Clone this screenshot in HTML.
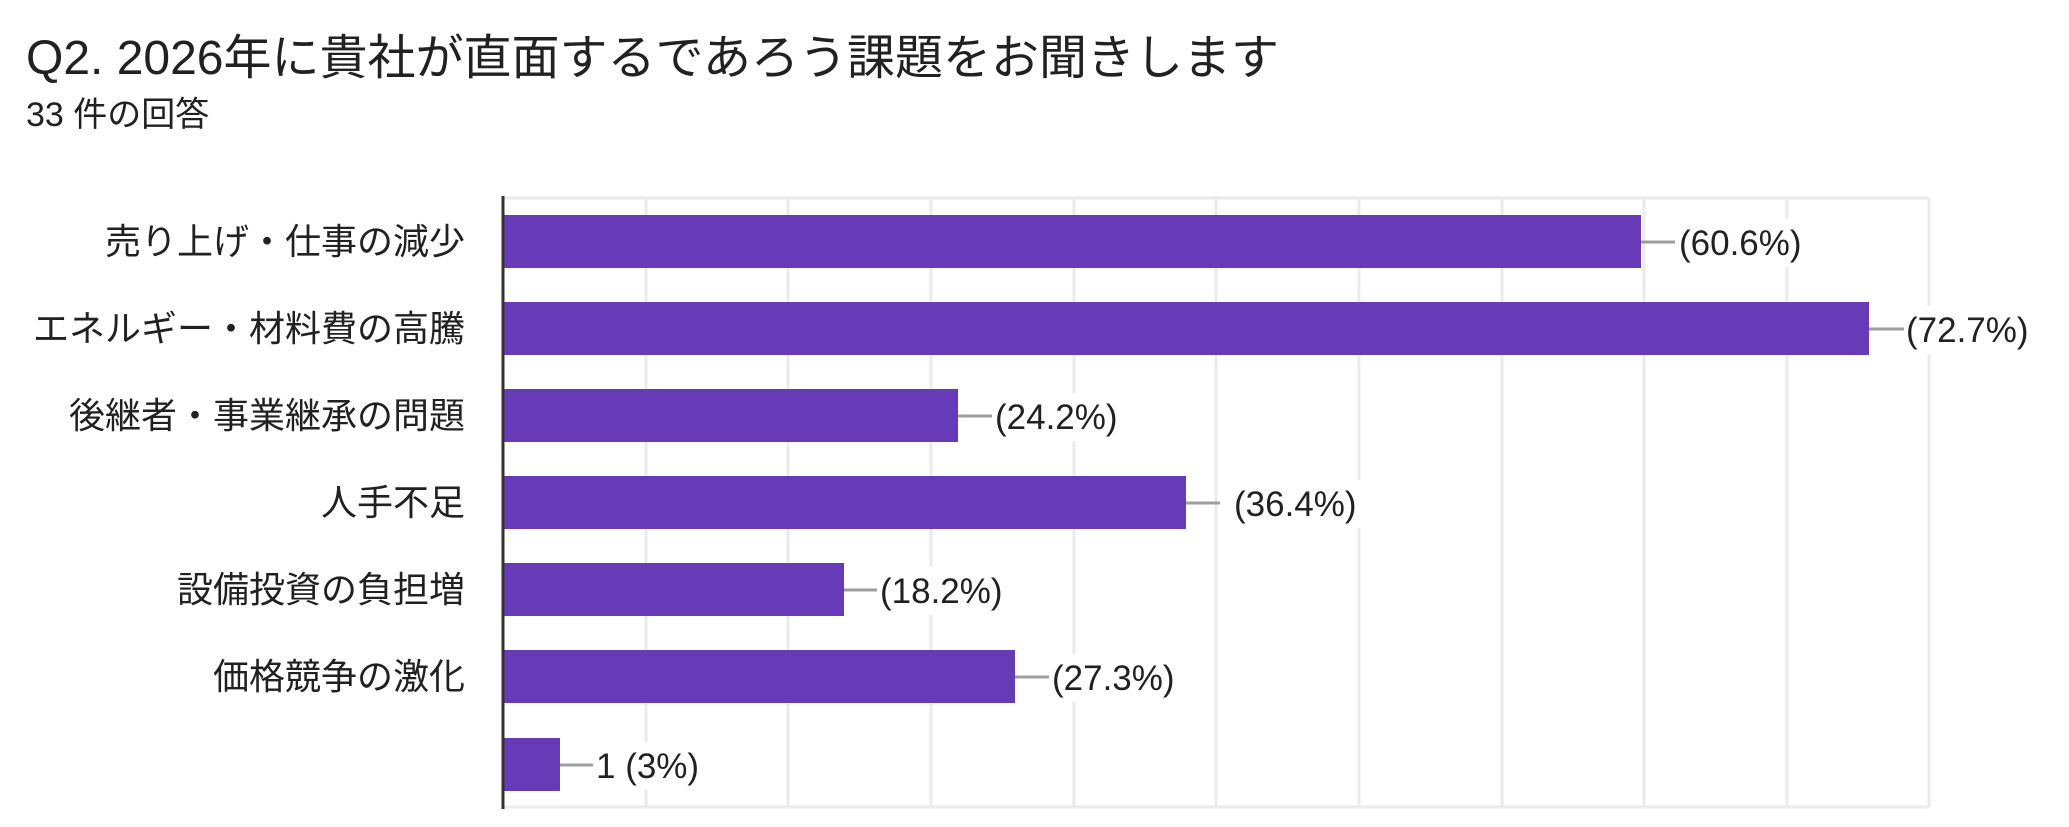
<!DOCTYPE html>
<html><head><meta charset="utf-8"><style>
html,body{margin:0;padding:0;background:#fff;}
svg{display:block;}
text{font-family:"Liberation Sans","Noto Sans CJK JP",sans-serif;fill:#212121;}
</style></head><body>
<svg width="2069" height="827" viewBox="0 0 2069 827" xmlns="http://www.w3.org/2000/svg">
<text x="26" y="74" font-size="48">Q2. 2026年に貴社が直面するであろう課題をお聞きします</text>
<text x="26" y="126" font-size="34">33 件の回答</text>
<g stroke="#ebebeb" stroke-width="3">
<line x1="503" y1="198" x2="1929" y2="198"/>
<line x1="503" y1="807" x2="1929" y2="807"/>
<line x1="646" y1="198" x2="646" y2="807"/>
<line x1="788" y1="198" x2="788" y2="807"/>
<line x1="931" y1="198" x2="931" y2="807"/>
<line x1="1074" y1="198" x2="1074" y2="807"/>
<line x1="1216" y1="198" x2="1216" y2="807"/>
<line x1="1359" y1="198" x2="1359" y2="807"/>
<line x1="1502" y1="198" x2="1502" y2="807"/>
<line x1="1644" y1="198" x2="1644" y2="807"/>
<line x1="1787" y1="198" x2="1787" y2="807"/>
<line x1="1929" y1="198" x2="1929" y2="807"/>
</g>
<g fill="#673ab7">
<rect x="504" y="215" width="1137" height="53"/>
<rect x="504" y="302" width="1365" height="53"/>
<rect x="504" y="389" width="454" height="53"/>
<rect x="504" y="476" width="682" height="53"/>
<rect x="504" y="563" width="340" height="53"/>
<rect x="504" y="650" width="511" height="53"/>
<rect x="504" y="738" width="56" height="53"/>
</g>
<line x1="503" y1="196" x2="503" y2="809" stroke="#333" stroke-width="3"/>
<g stroke="#9e9e9e" stroke-width="3">
<line x1="1641" y1="242" x2="1675" y2="242"/>
<line x1="1869" y1="329" x2="1904" y2="329"/>
<line x1="958" y1="416" x2="992" y2="416"/>
<line x1="1186" y1="503" x2="1220" y2="503"/>
<line x1="844" y1="590" x2="877" y2="590"/>
<line x1="1015" y1="677" x2="1049" y2="677"/>
<line x1="560" y1="765" x2="593" y2="765"/>
</g>
<g fill="#fff">
<rect x="1677" y="219" width="132" height="48"/>
<rect x="1905" y="306" width="132" height="48"/>
<rect x="994" y="393" width="132" height="48"/>
<rect x="1230" y="480" width="132" height="48"/>
<rect x="879" y="567" width="132" height="48"/>
<rect x="1051" y="654" width="132" height="48"/>
<rect x="595" y="742" width="110" height="48"/>
</g>
<g font-size="35">
<text x="1679" y="255">(60.6%)</text>
<text x="1906" y="342">(72.7%)</text>
<text x="995" y="429">(24.2%)</text>
<text x="1234" y="516">(36.4%)</text>
<text x="880" y="603">(18.2%)</text>
<text x="1052" y="690">(27.3%)</text>
<text x="596" y="778">1 (3%)</text>
</g>
<g font-size="36" text-anchor="end">
<text x="465" y="254">売り上げ・仕事の減少</text>
<text x="465" y="341">エネルギー・材料費の高騰</text>
<text x="465" y="428">後継者・事業継承の問題</text>
<text x="465" y="515">人手不足</text>
<text x="465" y="602">設備投資の負担増</text>
<text x="465" y="689">価格競争の激化</text>
</g>
</svg>
</body></html>
